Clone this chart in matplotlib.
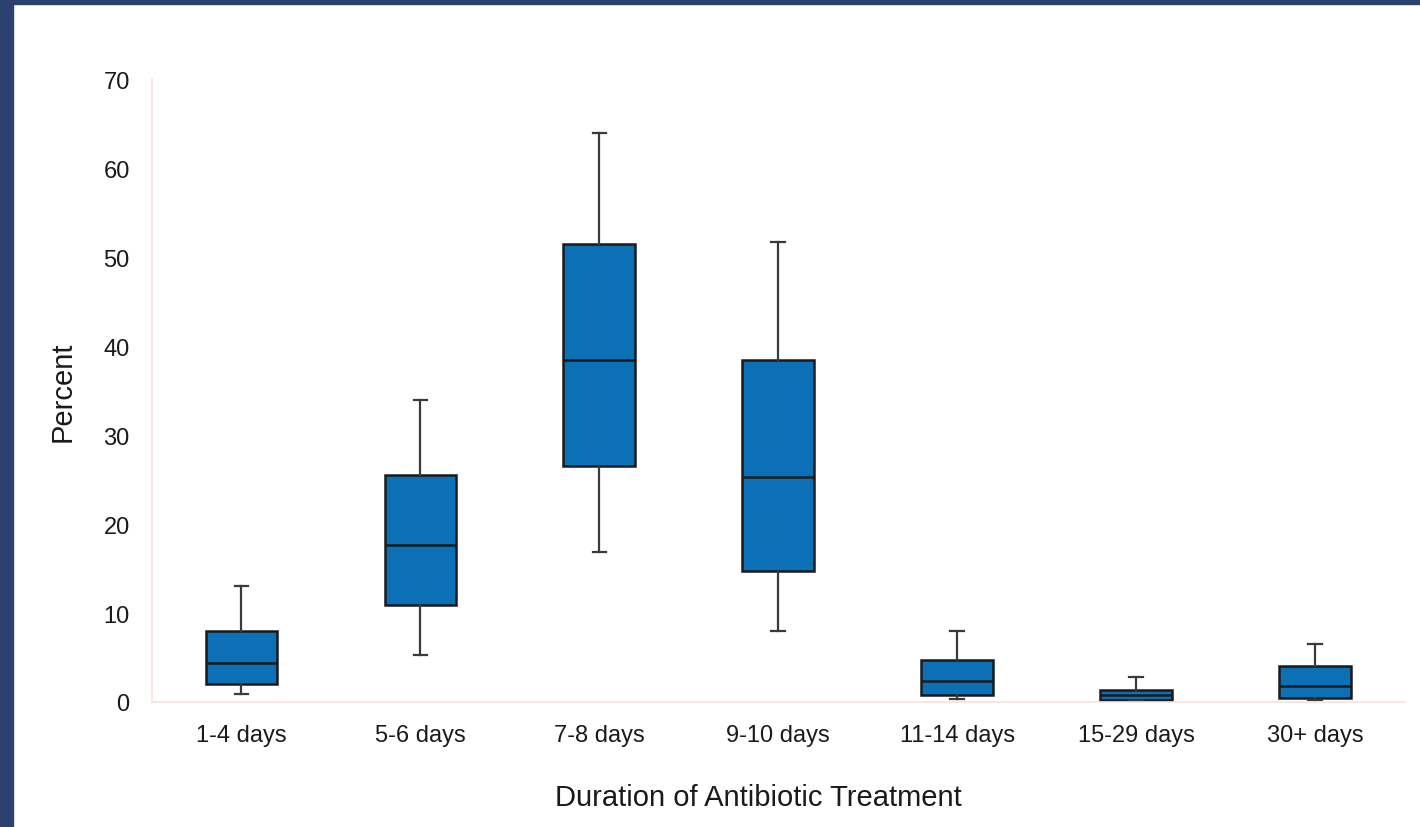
import matplotlib
matplotlib.use('Agg')
import matplotlib.pyplot as plt
from matplotlib.patches import Rectangle

plt.rcParams['font.family'] = ['Liberation Sans', 'DejaVu Sans']

categories = ['1-4 days', '5-6 days', '7-8 days', '9-10 days',
              '11-14 days', '15-29 days', '30+ days']
whislo = [0.9, 5.3, 16.9, 8.0, 0.3, 0.1, 0.2]
q1 = [2.0, 10.9, 26.5, 14.7, 0.8, 0.2, 0.45]
med = [4.4, 17.6, 38.5, 25.3, 2.4, 0.8, 1.8]
q3 = [8.0, 25.5, 51.5, 38.5, 4.7, 1.35, 4.0]
whishi = [13.0, 34.0, 64.0, 51.7, 8.0, 2.8, 6.5]

stats = []
for i, c in enumerate(categories):
    stats.append(dict(label=c, whislo=whislo[i], q1=q1[i], med=med[i],
                      q3=q3[i], whishi=whishi[i], fliers=[]))

fig = plt.figure(figsize=(14.2, 8.28), dpi=100)
ax = fig.add_axes([0.107, 0.151, 0.882, 0.752])

ax.bxp(stats, positions=range(len(categories)), widths=0.4,
       patch_artist=True, showfliers=False,
       boxprops=dict(facecolor='#0b70b5', edgecolor='#1a1a1a', linewidth=1.8),
       medianprops=dict(color='#1a1a1a', linewidth=1.8),
       whiskerprops=dict(color='#3a3a3a', linewidth=1.6),
       capprops=dict(color='#3a3a3a', linewidth=1.6),
       capwidths=0.075)

ax.set_xlim(-0.5, 6.5)
ax.set_ylim(0, 70)
ax.set_yticks(range(0, 71, 10))
ax.set_xticks(range(len(categories)))
ax.set_xticklabels(categories)
ax.tick_params(length=0, labelsize=17, colors='#1a1a1a')
ax.tick_params(axis='x', pad=16)
ax.tick_params(axis='y', pad=16)

for s in ['top', 'right']:
    ax.spines[s].set_visible(False)
for s in ['left', 'bottom']:
    ax.spines[s].set_color('#fbe0dc')
    ax.spines[s].set_linewidth(1.2)

ax.set_ylabel('Percent', fontsize=21, color='#1a1a1a')
ax.set_xlabel('Duration of Antibiotic Treatment', fontsize=21,
              color='#1a1a1a')
ax.xaxis.set_label_coords(0.484, -0.13)
ax.yaxis.set_label_coords(-0.06, 0.5)

# navy frame strips at top and left
fig.patches.append(Rectangle((0, 1 - 5 / 828), 1, 5 / 828,
                             transform=fig.transFigure, color='#2c4170'))
fig.patches.append(Rectangle((0, 0), 13 / 1420, 1,
                             transform=fig.transFigure, color='#2c4170'))

fig.savefig('out.png', dpi=100)
